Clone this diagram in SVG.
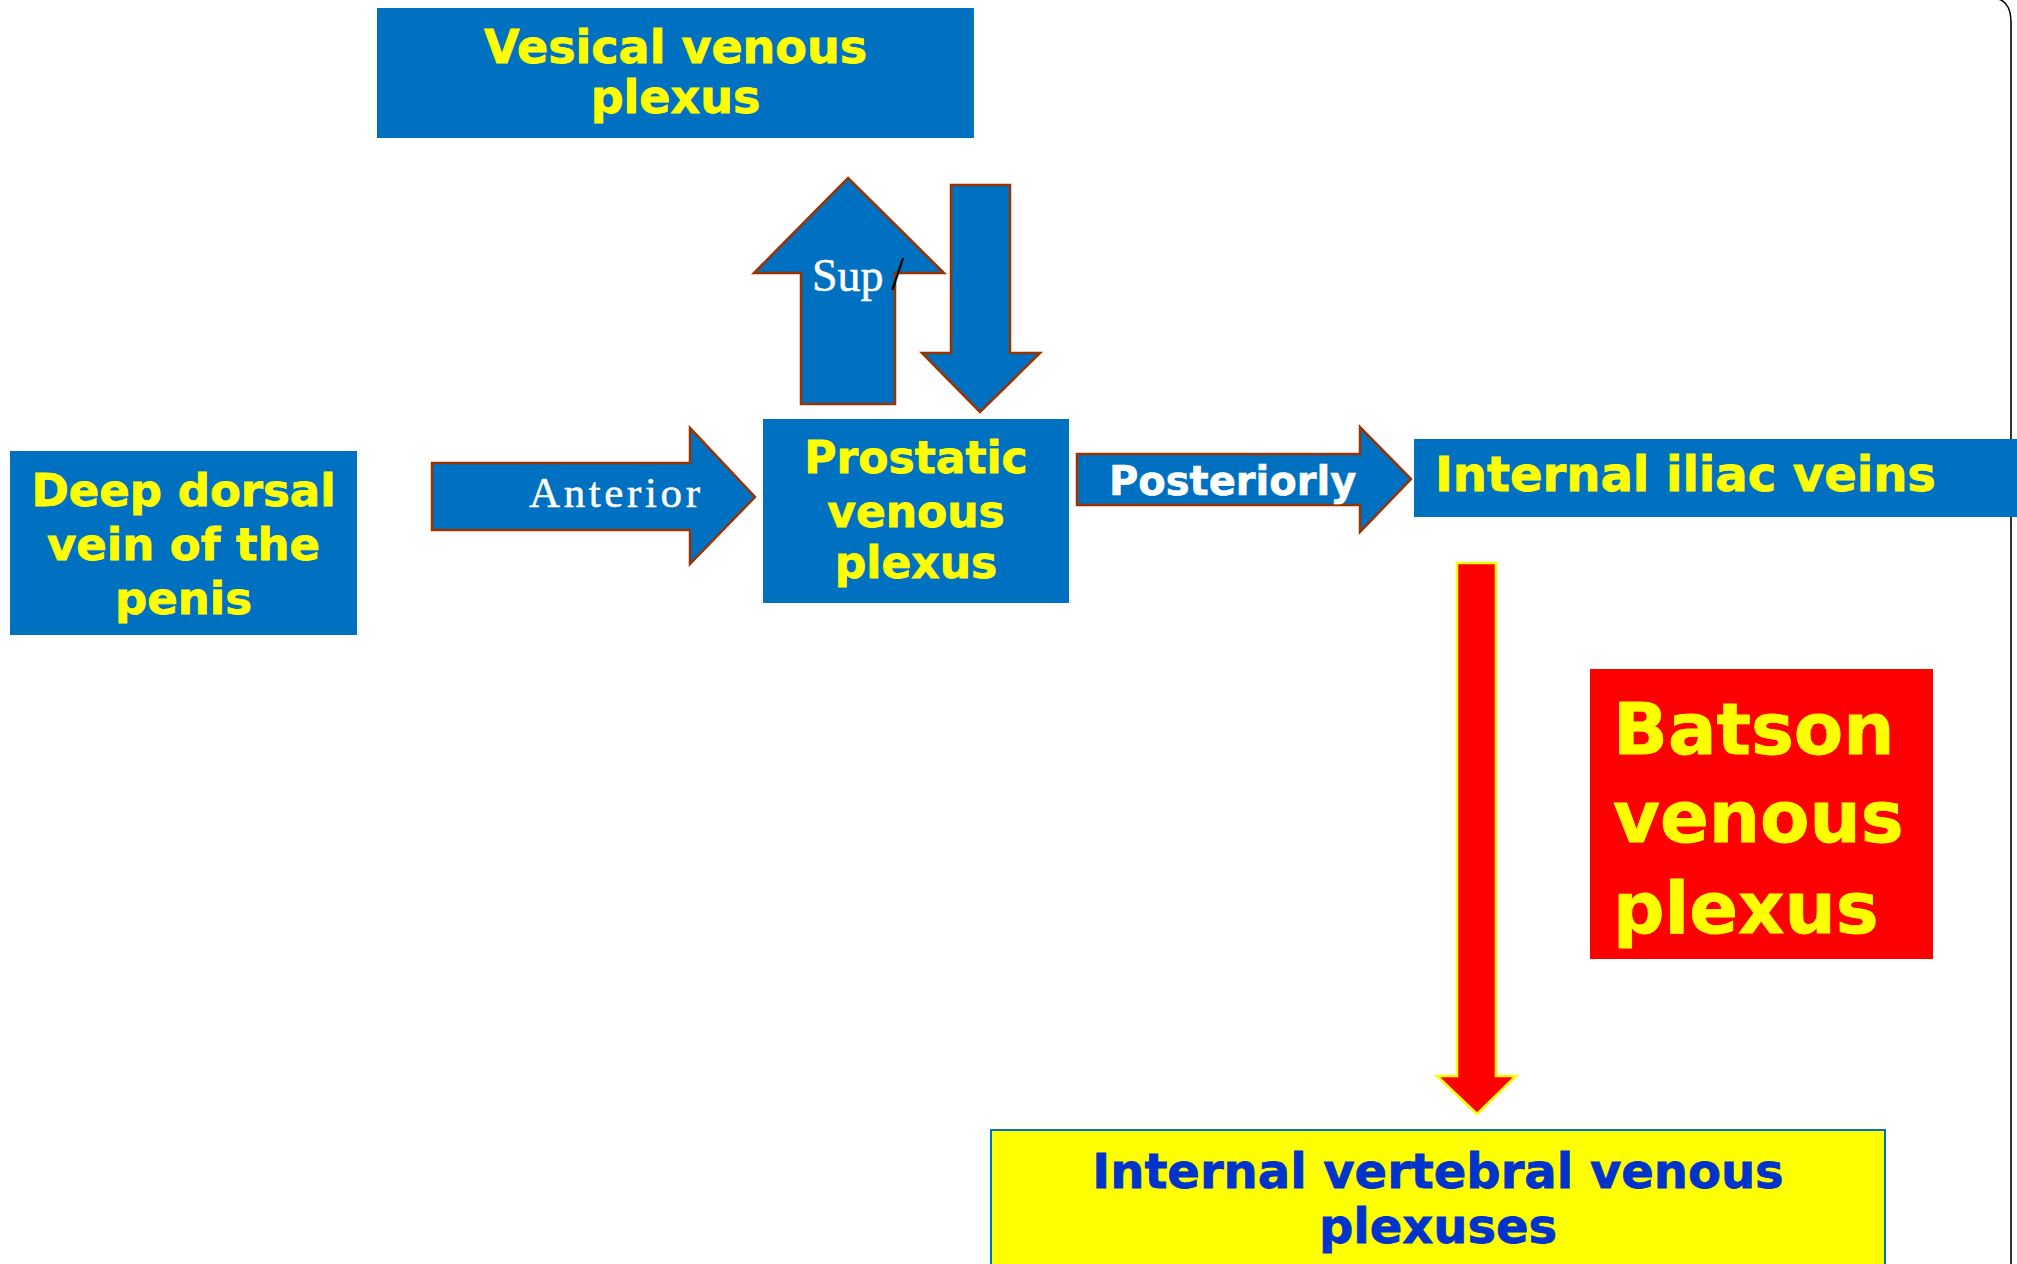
<svg xmlns="http://www.w3.org/2000/svg" width="2017" height="1264" viewBox="0 0 2017 1264">
<style>
.box{fill:#0070C0}
.arr{fill:#0070C0;stroke:#993300;stroke-width:2.5;stroke-linejoin:miter}
.yt{font-family:"DejaVu Sans",Verdana,sans-serif;font-weight:bold;fill:#FFFF00;stroke:#FFFF00;stroke-width:0.8}
.wt{font-family:"DejaVu Sans",Verdana,sans-serif;font-weight:bold;fill:#FFFFFF;stroke:#FFFFFF;stroke-width:0.6}
.st{font-family:"Liberation Serif","Times New Roman",serif;fill:#FFFFFF;stroke:#FFFFFF;stroke-width:0.5}
.bt{font-family:"DejaVu Sans",Verdana,sans-serif;font-weight:bold;fill:#0033CC;stroke:#0033CC;stroke-width:0.8}
</style>
<rect width="2017" height="1264" fill="#FFFFFF"/>
<path d="M1994 -2 Q2011 0 2011 22 V1264" fill="none" stroke="#000" stroke-width="1.6"/>
<g id="connectors">
  <g id="arrow-sup">
    <polygon class="arr" points="848,178 944,273 895,273 895,404 801,404 801,273 754,273"/>
    <text class="st" x="812" y="291" font-size="46">Sup</text>
    <text x="891" y="290" font-size="48" font-family="Liberation Serif,serif" fill="#000000">/</text>
  </g>
  <polygon id="arrow-down" class="arr" points="951,185 1010,185 1010,353 1040,353 980,412 922,353 951,353"/>
  <g id="arrow-anterior">
    <polygon class="arr" points="432,463 690,463 690,428 755,497 690,564 690,530 432,530"/>
    <text class="st" x="529" y="507" font-size="43" textLength="171" lengthAdjust="spacing">Anterior</text>
  </g>
  <g id="arrow-posteriorly">
    <polygon class="arr" points="1077,454 1360,454 1360,427 1411,479 1360,532 1360,505 1077,505"/>
    <text class="wt" x="1109" y="495" font-size="40">Posteriorly</text>
  </g>
  <polygon id="arrow-batson" points="1457,563 1496,563 1496,1076 1516,1076 1477,1114 1437,1076 1457,1076" fill="#FF0000" stroke="#FFFF00" stroke-width="2.5"/>
</g>
<g id="vesical">
  <rect class="box" x="377" y="8" width="597" height="130"/>
  <text class="yt" x="675.5" y="63" font-size="46" text-anchor="middle">Vesical venous</text>
  <text class="yt" x="675.5" y="113" font-size="46" text-anchor="middle">plexus</text>
</g>
<g id="deep-dorsal">
  <rect class="box" x="10" y="451" width="347" height="184"/>
  <text class="yt" x="183.5" y="506" font-size="45" text-anchor="middle">Deep dorsal</text>
  <text class="yt" x="183.5" y="560" font-size="45" text-anchor="middle">vein of the</text>
  <text class="yt" x="183.5" y="614" font-size="45" text-anchor="middle">penis</text>
</g>
<g id="prostatic">
  <rect class="box" x="763" y="419" width="306" height="184"/>
  <text class="yt" x="916" y="473" font-size="44" text-anchor="middle">Prostatic</text>
  <text class="yt" x="916" y="527" font-size="44" text-anchor="middle">venous</text>
  <text class="yt" x="916" y="578" font-size="44" text-anchor="middle">plexus</text>
</g>
<g id="internal-iliac">
  <rect class="box" x="1414" y="439" width="603" height="78"/>
  <text class="yt" x="1435" y="491" font-size="48">Internal iliac veins</text>
</g>
<g id="batson">
  <rect x="1590" y="669" width="343" height="290" fill="#FF0000"/>
  <text class="yt" x="1613" y="754" font-size="72">Batson</text>
  <text class="yt" x="1613" y="842" font-size="72">venous</text>
  <text class="yt" x="1613" y="933" font-size="72">plexus</text>
</g>
<g id="vertebral">
  <rect x="991" y="1130" width="894" height="145" fill="#FFFF00" stroke="#0070C0" stroke-width="2"/>
  <text class="bt" x="1438" y="1188" font-size="48" text-anchor="middle">Internal vertebral venous</text>
  <text class="bt" x="1438" y="1243" font-size="48" text-anchor="middle">plexuses</text>
</g>
</svg>
